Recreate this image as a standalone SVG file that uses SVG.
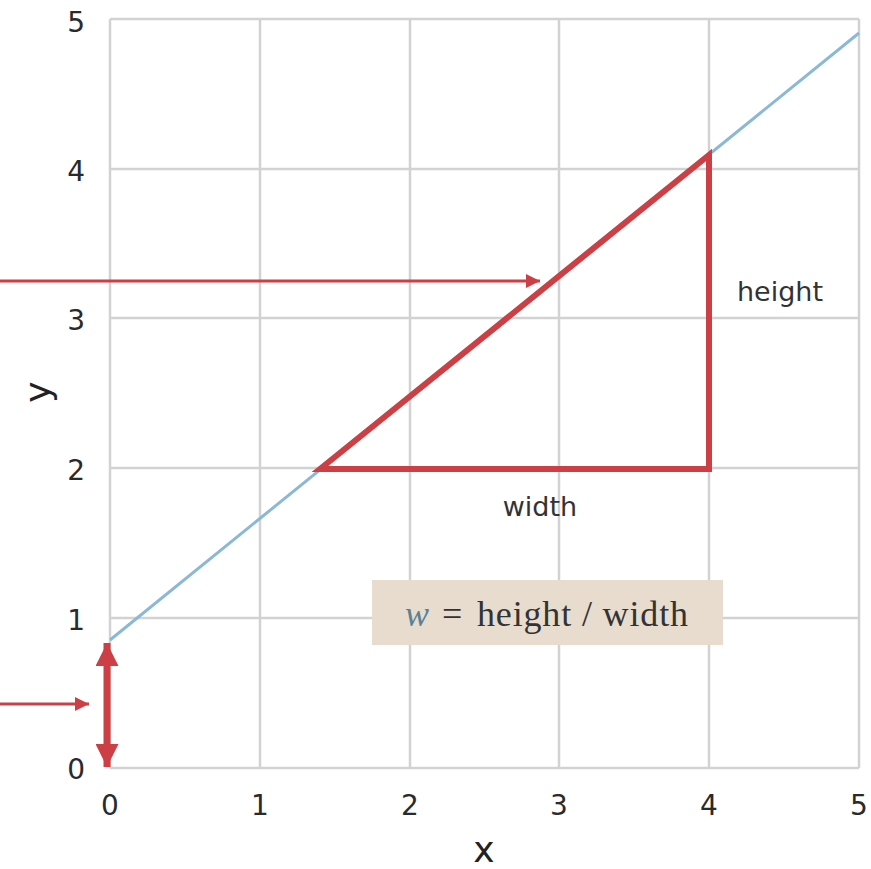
<svg xmlns="http://www.w3.org/2000/svg" width="871" height="869" viewBox="0 0 871 869">
<defs>
<style>
.grid{stroke:#d2d2d2;stroke-width:2.5;fill:none}
.tick{font-family:"DejaVu Sans",sans-serif;font-size:28px;fill:#2a2a2a}
.lbl{font-family:"DejaVu Sans",sans-serif;font-size:27px;fill:#333}
.red{stroke:#cc3f45;fill:none}
</style>
<marker id="ah" viewBox="0 0 10 10" refX="10" refY="5" markerWidth="16" markerHeight="14" markerUnits="userSpaceOnUse" orient="auto"><path d="M0,0L10,5L0,10z" fill="#cc3f45"/></marker>
<marker id="big" viewBox="0 0 10 10" refX="10" refY="5" markerWidth="23" markerHeight="23" markerUnits="userSpaceOnUse" orient="auto"><path d="M0,0L10,5L0,10z" fill="#cc3f45"/></marker>
</defs>
<rect width="871" height="869" fill="#fff"/>
<g id="grid" class="grid">
<path d="M110,19V768M260,19V768M410,19V768M559,19V768M709,19V768M859,19V768"/>
<path d="M110,19H859M110,169H859M110,318H859M110,468H859M110,618H859M110,768H859"/>
</g>
<g id="ticks" class="tick">
<g text-anchor="end">
<text x="85" y="32">5</text>
<text x="85" y="181">4</text>
<text x="85" y="330">3</text>
<text x="85" y="480">2</text>
<text x="85" y="630">1</text>
<text x="85" y="779">0</text>
</g>
<g text-anchor="middle">
<text x="110" y="815">0</text>
<text x="260" y="815">1</text>
<text x="410" y="815">2</text>
<text x="559" y="815">3</text>
<text x="709" y="815">4</text>
<text x="859" y="815">5</text>
</g>
</g>
<text id="xlabel" x="484" y="862" text-anchor="middle" font-family="DejaVu Sans, sans-serif" font-size="36" fill="#222">x</text>
<text id="ylabel" transform="translate(50,392) rotate(-90)" text-anchor="middle" font-family="DejaVu Sans, sans-serif" font-size="36" fill="#222">y</text>
<g id="line">
<line x1="110" y1="640" x2="859" y2="33" stroke="#8ab9d8" stroke-width="3"/>
</g>
<g id="triangle">
<path class="red" d="M320,469L709,155V469Z" stroke-width="6" stroke-linejoin="miter"/>
</g>
<g id="connectors">
<line class="red" x1="0" y1="281" x2="540" y2="281" stroke-width="3" marker-end="url(#ah)"/>
<line class="red" x1="0" y1="704" x2="89" y2="704" stroke-width="3" marker-end="url(#ah)"/>
<line class="red" x1="107" y1="700" x2="107" y2="643" stroke-width="7" marker-end="url(#big)"/>
<line class="red" x1="107" y1="700" x2="107" y2="767" stroke-width="7" marker-end="url(#big)"/>
</g>
<text id="height" class="lbl" x="780" y="301" text-anchor="middle">height</text>
<text id="width" class="lbl" x="540" y="516" text-anchor="middle">width</text>
<g id="formula">
<rect x="372" y="580" width="351" height="65" fill="#e8dccf"/>
<text y="626" font-family="Liberation Serif, serif" font-size="36" fill="#333"><tspan x="405" font-style="italic" fill="#5a8294">w</tspan><tspan x="442">=</tspan><tspan x="477" textLength="211" lengthAdjust="spacing">height / width</tspan></text>
</g>
</svg>
